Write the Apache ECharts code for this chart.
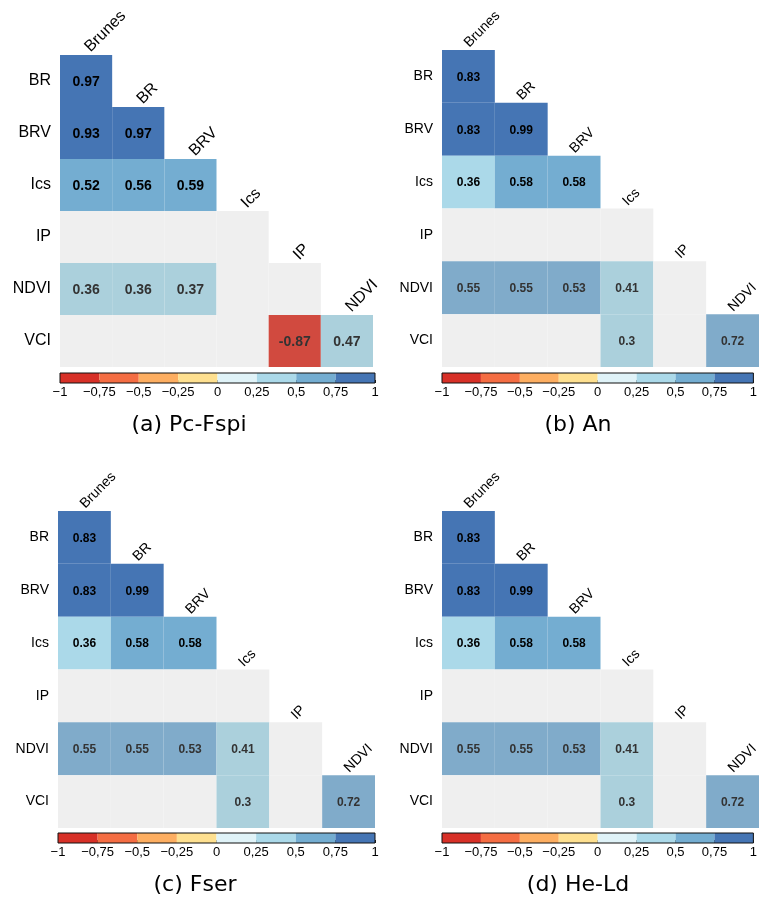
<!DOCTYPE html>
<html><head><meta charset="utf-8">
<script src="https://cdn.jsdelivr.net/npm/echarts@6/dist/echarts.min.js"></script>
<style>html,body{margin:0;padding:0;background:#fff}#c{width:760px;height:902px}</style>
</head><body><div id="c"></div><script>
// ---------- data ----------
const rowNames = ['BR', 'BRV', 'Ics', 'IP', 'NDVI', 'VCI'];
const colNames = ['Brunes', 'BR', 'BRV', 'Ics', 'IP', 'NDVI'];
// lower-triangle correlations, null = not significant (grey cell)
const corrPcFspi = [
  [0.97],
  [0.93, 0.97],
  [0.52, 0.56, 0.59],
  [null, null, null, null],
  [0.36, 0.36, 0.37, null, null],
  [null, null, null, null, -0.87, 0.47]
];
const corrAn = [
  [0.83],
  [0.83, 0.99],
  [0.36, 0.58, 0.58],
  [null, null, null, null],
  [0.55, 0.55, 0.53, 0.41, null],
  [null, null, null, 0.3, null, 0.72]
];
const corrFser = [
  [0.83],
  [0.83, 0.99],
  [0.36, 0.58, 0.58],
  [null, null, null, null],
  [0.55, 0.55, 0.53, 0.41, null],
  [null, null, null, 0.3, null, 0.72]
];
const corrHeLd = [
  [0.83],
  [0.83, 0.99],
  [0.36, 0.58, 0.58],
  [null, null, null, null],
  [0.55, 0.55, 0.53, 0.41, null],
  [null, null, null, 0.3, null, 0.72]
];
const weakRows = ['NDVI', 'VCI'];
const captions = ['(a) Pc-Fspi', '(b) An', '(c) Fser', '(d) He-Ld'];
const binEdges = [-1, -0.75, -0.5, -0.25, 0, 0.25, 0.5, 0.75, 1];
const binColors = ['#d73027', '#f46d43', '#fdae61', '#fee090', '#e0f3f8', '#abd9e9', '#74add1', '#4575b4'];
const weakColors = ['#d14a3f', '#e4775c', '#eaa876', '#ecd79c', '#dbe9ee', '#abd0dc', '#80abca', '#5a80b0'];

// ---------- layout ----------
const panels = [
  { corr: corrPcFspi, grid: { left: 60, top: 55, width: 313, height: 312 }, bar: { left: 60, top: 373, width: 315, height: 10 }, cap: [189, 425], lab: 16, val: 14, colLab: 16, colDx: 7 },
  { corr: corrAn, grid: { left: 442, top: 50, width: 317, height: 317 }, bar: { left: 442, top: 373, width: 317, height: 10 }, cap: [578, 425], lab: 14, val: 12, colLab: 14, colDx: 3 },
  { corr: corrFser, grid: { left: 58, top: 511, width: 317, height: 317 }, bar: { left: 58, top: 833, width: 317, height: 10 }, cap: [195, 885], lab: 14, val: 12, colLab: 14, colDx: 3 },
  { corr: corrHeLd, grid: { left: 442, top: 511, width: 317, height: 317 }, bar: { left: 442, top: 833, width: 317, height: 10 }, cap: [578, 885], lab: 14, val: 12, colLab: 14, colDx: 3 }
];
const FONT = '"Liberation Sans", Arial, sans-serif';

function binIndex(v) {
  for (let i = 0; i < binColors.length; i++) if (v <= binEdges[i + 1]) return i;
  return binColors.length - 1;
}
function fmtTick(v) {
  return (v < 0 ? '\u2212' : '') + String(Math.abs(v)).replace('.', ',');
}

const grids = [], xAxes = [], yAxes = [], series = [], graphics = [];
panels.forEach((p, k) => {
  const gi = k * 2, bi = k * 2 + 1;
  grids.push(Object.assign({ show: false }, p.grid));
  grids.push(Object.assign({ show: false }, p.bar));
  xAxes.push({ type: 'category', gridIndex: gi, data: colNames, axisLine: { show: false }, axisTick: { show: false }, axisLabel: { show: false }, splitLine: { show: false } });
  yAxes.push({ type: 'category', gridIndex: gi, data: rowNames, inverse: true, axisLine: { show: false }, axisTick: { show: false }, splitLine: { show: false },
    axisLabel: { fontSize: p.lab, color: '#000', fontFamily: FONT, margin: 9 } });
  xAxes.push({ type: 'value', gridIndex: bi, min: -1, max: 1, interval: 0.25, axisLine: { show: false }, splitLine: { show: false },
    axisTick: { show: true, inside: true, length: 3, lineStyle: { color: '#222', width: 1 } },
    axisLabel: { formatter: fmtTick, fontSize: 13, color: '#000', fontFamily: FONT, margin: 3 } });
  yAxes.push({ type: 'category', gridIndex: bi, data: ['bar'], show: false });

  // cells
  const cellData = [];
  p.corr.forEach((row, r) => row.forEach((v, c) => cellData.push([c, r, v])));
  series.push({
    type: 'custom', xAxisIndex: gi, yAxisIndex: gi, data: cellData, encode: { x: 0, y: 1 }, silent: true,
    renderItem: function (params, api) {
      const c = api.value(0), r = api.value(1);
      const v = p.corr[r][c];
      const pt = api.coord([c, r]);
      const s = api.size([1, 1]);
      const weak = weakRows.indexOf(rowNames[r]) >= 0;
      let fill = '#efefef';
      if (v !== null) fill = (weak ? weakColors : binColors)[binIndex(v)];
      const children = [{ type: 'rect', shape: { x: pt[0] - s[0] / 2, y: pt[1] - s[1] / 2, width: s[0], height: s[1] }, style: { fill: fill } }];
      if (v !== null) {
        children.push({ type: 'text', x: pt[0], y: pt[1] + 1,
          style: { text: String(v), fill: weak ? '#333' : '#000', font: 'bold ' + p.val + 'px ' + FONT, align: 'center', verticalAlign: 'middle', textAlign: 'center', textVerticalAlign: 'middle' } });
      }
      return { type: 'group', children: children };
    }
  });
  // diagonal column labels
  series.push({
    type: 'custom', xAxisIndex: gi, yAxisIndex: gi, data: colNames.map((n, c) => [c, c]), encode: { x: 0, y: 1 }, silent: true,
    renderItem: function (params, api) {
      const c = api.value(0), r = api.value(1);
      const pt = api.coord([c, r]);
      const s = api.size([1, 1]);
      return { type: 'text', x: pt[0] + p.colDx, y: pt[1] - s[1] / 2, rotation: Math.PI / 4,
        style: { text: colNames[c], fill: '#000', font: p.colLab + 'px ' + FONT, align: 'left', verticalAlign: 'bottom', textAlign: 'left', textVerticalAlign: 'bottom' } };
    }
  });
  // colour bar bins
  series.push({
    type: 'custom', xAxisIndex: bi, yAxisIndex: bi, silent: true,
    data: binColors.map((col, i) => [binEdges[i], binEdges[i + 1], 0]), encode: { x: [0, 1], y: 2 },
    renderItem: function (params, api) {
      const a = api.coord([api.value(0), 0]);
      const b = api.coord([api.value(1), 0]);
      const h = api.size([0, 1])[1];
      return { type: 'rect', shape: { x: a[0], y: a[1] - h / 2, width: b[0] - a[0], height: h }, style: { fill: binColors[params.dataIndex] } };
    }
  });
  // colour bar frame
  series.push({
    type: 'custom', xAxisIndex: bi, yAxisIndex: bi, silent: true, z: 5,
    data: [[binEdges[0], binEdges[binEdges.length - 1], 0]], encode: { x: [0, 1], y: 2 },
    renderItem: function (params, api) {
      const a = api.coord([api.value(0), 0]);
      const b = api.coord([api.value(1), 0]);
      const h = api.size([0, 1])[1];
      return { type: 'rect', shape: { x: a[0], y: a[1] - h / 2, width: b[0] - a[0], height: h }, style: { fill: 'none', stroke: '#111', lineWidth: 1 } };
    }
  });
  graphics.push({ type: 'text', x: p.cap[0], y: p.cap[1],
    style: { text: captions[k], fill: '#000', font: '22px "DejaVu Sans", sans-serif', align: 'center', verticalAlign: 'middle', textAlign: 'center', textVerticalAlign: 'middle' } });
});

const chart = echarts.init(document.getElementById('c'), null, { renderer: 'canvas' });
chart.setOption({
  animation: false,
  backgroundColor: '#fff',
  grid: grids, xAxis: xAxes, yAxis: yAxes, series: series, graphic: graphics
});
</script></body></html>
